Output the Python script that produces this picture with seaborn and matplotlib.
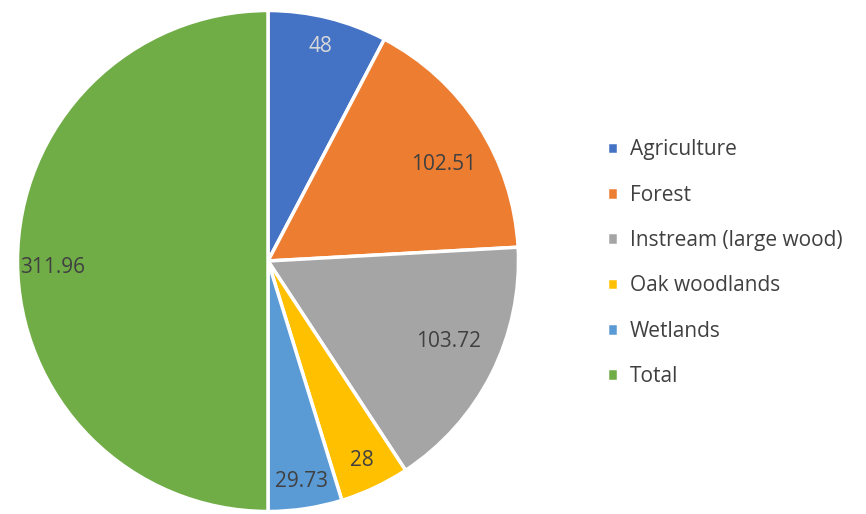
import numpy as np
import matplotlib
matplotlib.use("Agg")
import matplotlib.pyplot as plt
import seaborn as sns

# Data
categories = ['Agriculture', 'Forest', 'Instream (large wood)', 'Oak woodlands', 'Wetlands', 'Total']
values = [48, 102.51, 103.72, 28, 29.73, 311.96]
value_labels = ['48', '102.51', '103.72', '28', '29.73', '311.96']

colors = ['#4472C4', '#ED7D31', '#A5A5A5', '#FFC000', '#5B9BD5', '#70AD47']
label_colors = ['#D9D9D9', '#404040', '#404040', '#404040', '#404040', '#404040']
label_radius = [0.88, 0.80, 0.79, 0.88, 0.89, 0.86]
label_shift = [0, -4, 2.7, 0, 0, 1.6]  # degrees, best-fit nudges

sns.set_theme(style="white")
plt.rcParams['font.family'] = ['Open Sans', 'DejaVu Sans']

fig = plt.figure(figsize=(8.66, 5.14), dpi=100)
ax = fig.add_axes([15 / 866, 0, 506 / 866, 506 / 514])

wedges, _ = ax.pie(values, colors=colors, startangle=90, counterclock=False,
                   radius=1, wedgeprops=dict(edgecolor='white', linewidth=2.5))
ax.set_aspect('equal')
ax.set_xlim(-1.01, 1.01)
ax.set_ylim(-1.01, 1.01)

# value labels near the outer edge of each slice
for w, txt, r, d, c in zip(wedges, value_labels, label_radius, label_shift, label_colors):
    ang = np.deg2rad((w.theta1 + w.theta2) / 2 + d)
    ax.text(r * np.cos(ang), r * np.sin(ang), txt, ha='center', va='center',
            fontsize=15, color=c)

# legend on the right
fig.legend(wedges, categories, loc='center left', bbox_to_anchor=(588 / 866, 0.488),
           frameon=False, fontsize=15, handlelength=0.55, handleheight=0.55,
           handletextpad=0.55, labelspacing=1.17, labelcolor='#404040')

fig.savefig('out.png', dpi=100)
